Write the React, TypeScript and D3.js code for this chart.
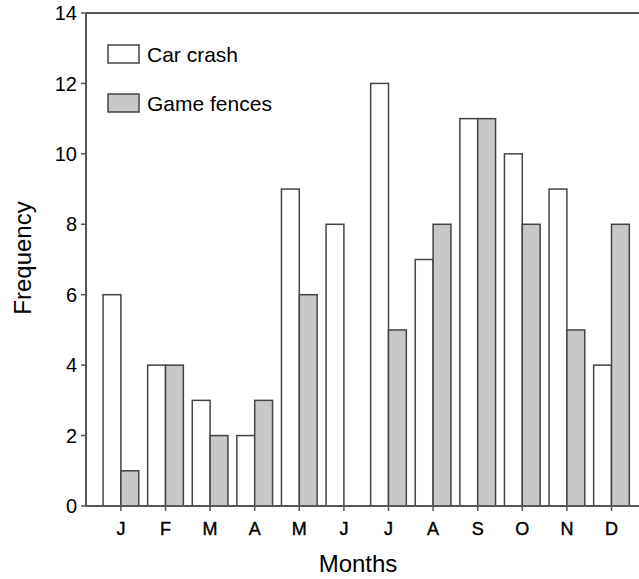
import React from 'react'
import * as d3 from 'd3'

const width = 639
const height = 579
const months = ['J', 'F', 'M', 'A', 'M ', 'J ', 'J  ', 'A ', 'S', 'O', 'N', 'D']
const series = ['Car crash', 'Game fences']
const carCrash = [6, 4, 3, 2, 9, 8, 12, 7, 11, 10, 9, 4]
const gameFences = [1, 4, 2, 3, 6, 0, 5, 8, 11, 8, 5, 8]
const yTicks = [0, 2, 4, 6, 8, 10, 12, 14]
const fills = ['#ffffff', '#c8c8c8']
const font = 'Arial, "Liberation Sans", sans-serif'

export default function App() {
  const x = d3
    .scaleBand()
    .domain(months)
    .range([98.6, 633.8])
    .paddingInner(0.2)
    .paddingOuter(0.1)
  const xSub = d3.scaleBand().domain(series).range([0, x.bandwidth()])
  const y = d3.scaleLinear().domain([0, 14]).range([506, 13])

  const axisLeft = 86
  const axisColor = '#555'

  const bars = months.map((m, i) =>
    [carCrash[i], gameFences[i]].map((v, j) =>
      v > 0 ? (
        <rect
          key={m + j}
          x={(x(m) ?? 0) + (xSub(series[j]) ?? 0)}
          y={y(v)}
          width={xSub.bandwidth()}
          height={y(0) - y(v)}
          fill={fills[j]}
          stroke="#444"
          strokeWidth={1.5}
        />
      ) : null
    )
  )

  return (
    <svg
      width={width}
      height={height}
      style={{ position: 'absolute', left: 0, top: 0, background: 'white' }}
      fontFamily={font}
    >
      {bars}
      {/* frame */}
      <line x1={axisLeft} x2={width} y1={y(14)} y2={y(14)} stroke={axisColor} strokeWidth={2} />
      <line x1={axisLeft} x2={width} y1={y(0)} y2={y(0)} stroke={axisColor} strokeWidth={2} />
      <line x1={axisLeft} x2={axisLeft} y1={y(14)} y2={y(0)} stroke={axisColor} strokeWidth={2} />
      {yTicks.map((t) => (
        <g key={t}>
          <line x1={axisLeft - 5} x2={axisLeft} y1={y(t)} y2={y(t)} stroke={axisColor} strokeWidth={1.5} />
          <text x={axisLeft - 9} y={y(t)} dy="0.36em" textAnchor="end" fontSize={20} fill="#000">
            {t}
          </text>
        </g>
      ))}
      {months.map((m) => {
        const cx = (x(m) ?? 0) + x.bandwidth() / 2
        return (
          <g key={m}>
            <line x1={cx} x2={cx} y1={y(0)} y2={y(0) + 5} stroke={axisColor} strokeWidth={1.5} />
            <text x={cx} y={535} textAnchor="middle" fontSize={18} fill="#000" stroke="#000" strokeWidth={0.4}>
              {m.trim()}
            </text>
          </g>
        )
      })}
      <text x={358} y={572} textAnchor="middle" fontSize={24} fill="#000">
        Months
      </text>
      <text
        transform={`translate(31,258) rotate(-90)`}
        textAnchor="middle"
        fontSize={24}
        fill="#000"
      >
        Frequency
      </text>
      {/* legend */}
      {series.map((s, j) => (
        <g key={s} transform={`translate(108,${45 + j * 49})`}>
          <rect width={31} height={18} fill={fills[j]} stroke="#444" strokeWidth={1.5} />
          <text x={39} y={17} fontSize={21} fill="#000">
            {s}
          </text>
        </g>
      ))}
    </svg>
  )
}
